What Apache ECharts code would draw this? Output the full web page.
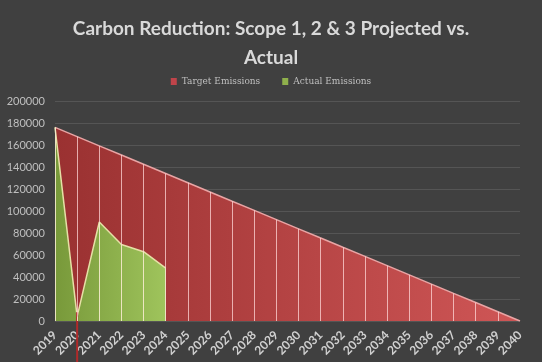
<!DOCTYPE html>
<html><head><meta charset="utf-8">
<script src="https://cdn.jsdelivr.net/npm/echarts@6/dist/echarts.min.js"></script>
<style>html,body{margin:0;padding:0;background:#404040;}#c{width:542px;height:362px;}</style>
</head><body><div id="c"></div>
<script>
const years = ['2019','2020','2021','2022','2023','2024','2025','2026','2027','2028','2029','2030','2031','2032','2033','2034','2035','2036','2037','2038','2039','2040'];
const targetEmissions = [176000,167600,159200,150900,142500,134100,125700,117300,108900,100600,92200,83800,75400,67000,58700,50300,41900,33500,25100,16800,8400,0];
const actualEmissions = [176000,4000,90000,69500,63000,48000];
const yTicks = [0,20000,40000,60000,80000,100000,120000,140000,160000,180000,200000];
const markerYear = '2020';

const chart = echarts.init(document.getElementById('c'));
const dropLines = years.map((y,i)=>[{coord:[y,targetEmissions[i]]},{coord:[y,0]}]);
chart.setOption({
  backgroundColor:'#404040',
  animation:false,
  title:{
    text:'Carbon Reduction: Scope 1, 2 & 3 Projected vs.\nActual',
    left:'center', top:9,
    textStyle:{color:'#d9d9d9',fontFamily:'Lato',fontWeight:'bold',fontSize:19,lineHeight:29}
  },
  legend:{
    top:72, left:'center', itemWidth:6, itemHeight:7, itemGap:22,
    icon:'rect',
    textStyle:{color:'#bfbfbf',fontFamily:'DejaVu Serif',fontSize:9},
    data:[{name:'Target Emissions',itemStyle:{color:'#c0444a'}},{name:'Actual Emissions',itemStyle:{color:'#8fb04c'}}]
  },
  grid:{left:55,right:22,top:101,bottom:41},
  xAxis:{
    type:'category', data:years, boundaryGap:false,
    axisLine:{show:false}, axisTick:{show:false},
    axisLabel:{rotate:45,color:'#d0d0d0',fontFamily:'Lato',fontWeight:'bold',fontSize:12,margin:12,interval:0},
    splitLine:{show:false}
  },
  yAxis:{
    type:'value', min:yTicks[0], max:yTicks[yTicks.length-1], interval:20000,
    axisLine:{show:false}, axisTick:{show:false},
    axisLabel:{color:'#bfbfbf',fontFamily:'Lato',fontSize:11,margin:10,formatter:v=>String(v)},
    splitLine:{lineStyle:{color:'#555555',width:1}}
  },
  series:[
    {
      name:'Target Emissions', type:'line', data:targetEmissions, symbol:'none',
      lineStyle:{color:'#e8a4a4',width:1.5},
      itemStyle:{color:'#c0444a'},
      areaStyle:{opacity:1,color:new echarts.graphic.LinearGradient(0,0,1,0,[{offset:0,color:'#9a3131'},{offset:1,color:'#cf5656'}])},
      markLine:{symbol:'none',silent:true,label:{show:false},lineStyle:{color:'rgba(255,215,215,0.75)',width:1,type:'solid'},data:dropLines},
      z:2
    },
    {
      name:'Actual Emissions', type:'line', data:actualEmissions, symbol:'none',
      lineStyle:{color:'#e6e0a6',width:1.5},
      itemStyle:{color:'#8fb04c'},
      areaStyle:{opacity:1,color:new echarts.graphic.LinearGradient(0,0,1,0,[{offset:0,color:'#78993a'},{offset:1,color:'#9fc45c'}])},
      markLine:{symbol:'none',silent:true,label:{show:false},lineStyle:{color:'rgba(240,240,200,0.7)',width:1,type:'solid'},
        data:actualEmissions.map((v,i)=>[{coord:[years[i],v]},{coord:[years[i],0]}])},
      z:3
    },
    {
      name:'marker', type:'line', clip:false, symbol:'none', silent:true,
      data:[[markerYear,8000],[markerYear,-40000]],
      lineStyle:{color:'#b02a2a',width:2}, z:4
    }
  ]
});
</script></body></html>
